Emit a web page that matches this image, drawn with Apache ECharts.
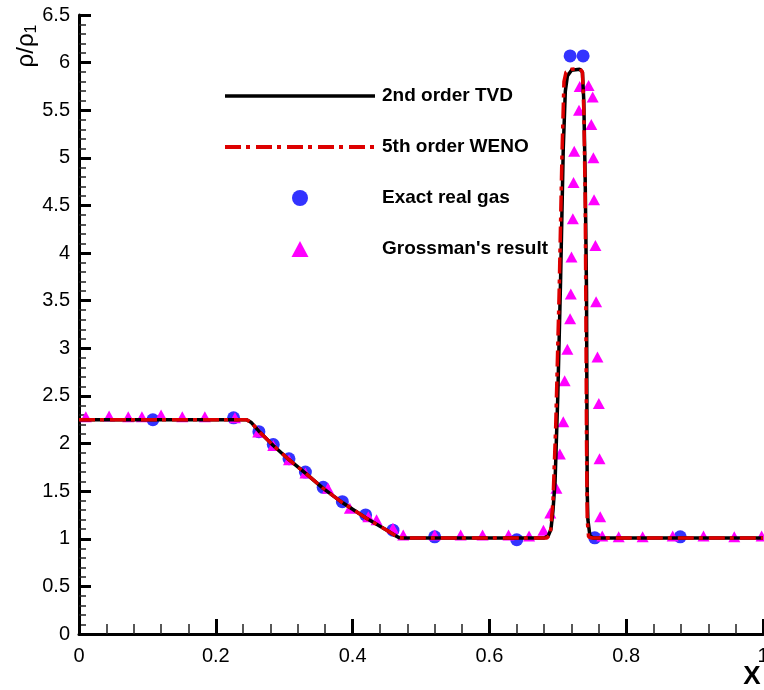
<!DOCTYPE html>
<html>
<head>
<meta charset="utf-8">
<script src="https://cdn.jsdelivr.net/npm/echarts@6/dist/echarts.min.js"></script>
<style>html,body{margin:0;padding:0;background:#fff}#c{width:764px;height:690px}</style>
</head>
<body>
<div id="c"></div>
<script>
// ---- data ----
var seriesNames = ["2nd order TVD", "5th order WENO", "Exact real gas", "Grossman's result"];
var xTicks = [0, 0.2, 0.4, 0.6, 0.8, 1];
var yTicks = [0, 0.5, 1, 1.5, 2, 2.5, 3, 3.5, 4, 4.5, 5, 5.5, 6, 6.5];

var tvd = [[0,2.25],[0.245,2.25],[0.252,2.22],[0.263,2.13],[0.284,1.98],[0.307,1.83],[0.331,1.69],
  [0.357,1.53],[0.385,1.38],[0.419,1.22],[0.45,1.09],[0.462,1.035],[0.468,1.012],[0.475,1.008],
  [0.68,1.008],[0.686,1.03],[0.690,1.10],[0.693,1.3],[0.696,1.6],[0.700,2.5],[0.704,3.7],
  [0.708,5.1],[0.711,5.7],[0.714,5.86],[0.720,5.92],[0.732,5.93],[0.736,5.9],[0.738,5.6],
  [0.740,4.8],[0.742,3.6],[0.743,1.5],[0.744,1.2],[0.747,1.03],[0.752,1.008],[1,1.008]];

var weno = [[0,2.25],[0.245,2.25],[0.252,2.22],[0.263,2.13],[0.284,1.98],[0.307,1.83],[0.331,1.69],
  [0.357,1.53],[0.385,1.38],[0.419,1.22],[0.45,1.09],[0.462,1.035],[0.468,1.012],[0.475,1.008],
  [0.684,1.008],[0.689,1.05],[0.693,1.4],[0.697,2.2],[0.702,3.6],[0.706,5.0],[0.709,5.8],
  [0.712,5.9],[0.720,5.93],[0.732,5.94],[0.736,5.9],[0.738,5.5],[0.740,4.6],[0.741,3.5],
  [0.742,2.0],[0.743,1.2],[0.745,1.02],[0.75,1.008],[1,1.008]];

var exact = [[0.108,2.25],[0.226,2.27],[0.263,2.125],[0.284,1.99],[0.307,1.84],[0.331,1.70],
  [0.357,1.54],[0.385,1.39],[0.419,1.25],[0.459,1.09],[0.520,1.02],[0.640,0.99],
  [0.718,6.07],[0.737,6.07],[0.754,1.01],[0.879,1.02]];

var grossman = [[0.010,2.28],[0.044,2.29],[0.072,2.28],[0.092,2.28],[0.120,2.30],[0.151,2.28],
  [0.184,2.28],[0.228,2.27],[0.262,2.12],[0.284,1.98],[0.307,1.83],[0.331,1.69],[0.364,1.53],
  [0.396,1.32],[0.423,1.23],[0.435,1.20],[0.459,1.11],[0.474,1.04],[0.520,1.04],[0.558,1.04],
  [0.590,1.04],[0.628,1.04],[0.658,1.03],[0.679,1.09],[0.689,1.27],[0.698,1.53],[0.703,1.89],
  [0.708,2.23],[0.710,2.66],[0.714,2.99],[0.718,3.31],[0.719,3.57],[0.720,3.96],[0.722,4.36],
  [0.723,4.74],[0.724,5.07],[0.731,5.50],[0.732,5.75],[0.745,5.76],[0.751,5.64],[0.749,5.35],
  [0.752,5.00],[0.753,4.56],[0.755,4.08],[0.756,3.49],[0.758,2.91],[0.760,2.42],[0.761,1.84],
  [0.762,1.23],[0.765,1.03],[0.789,1.02],[0.824,1.02],[0.868,1.03],[0.913,1.03],[0.958,1.02],
  [0.998,1.03]];

// ---- chart ----
var chart = echarts.init(document.getElementById('c'), null, {renderer: 'canvas'});
var font = 'Liberation Sans, Arial, sans-serif';
var hideSym = {color: 'rgba(0,0,0,0)', opacity: 0, borderWidth: 0};
chart.setOption({
  animation: false,
  backgroundColor: '#fff',
  grid: {left: 79, right: 1, top: 15, bottom: 56, containLabel: false, outerBoundsMode: 'none'},
  legend: {
    orient: 'vertical', left: 218, top: 81,
    itemWidth: 150, itemHeight: 16, itemGap: 31, symbolKeepAspect: true,
    data: [
      {name: seriesNames[0], itemStyle: hideSym, lineStyle: {width: 3.5, color: '#000'}},
      {name: seriesNames[1], itemStyle: hideSym, lineStyle: {width: 4, color: '#dd0000', type: [16,5,4,6]}},
      {name: seriesNames[2], icon: 'circle'},
      {name: seriesNames[3], icon: 'path://M0,17L9,0L18,17Z'}
    ],
    textStyle: {fontFamily: font, fontWeight: 'bold', fontSize: 19, color: '#000', lineHeight: 20, padding: [0,0,0,2]}
  },
  xAxis: {
    type: 'value', min: xTicks[0], max: xTicks[xTicks.length-1], interval: 0.2,
    axisLine: {onZero: false, lineStyle: {color: '#000', width: 3}},
    axisTick: {inside: true, length: 15, lineStyle: {color: '#000', width: 3}},
    minorTick: {show: true, splitNumber: 5, length: 10, lineStyle: {color: '#222', width: 1.5}},
    splitLine: {show: false},
    axisLabel: {color: '#000', fontFamily: font, fontSize: 20, margin: 12, showMaxLabel: true,
      formatter: function(v){ return String(+v.toFixed(1)); }}
  },
  yAxis: {
    type: 'value', min: yTicks[0], max: yTicks[yTicks.length-1], interval: 0.5,
    axisLine: {onZero: false, lineStyle: {color: '#000', width: 3}},
    axisTick: {inside: true, length: 12, lineStyle: {color: '#000', width: 3}},
    minorTick: {show: true, splitNumber: 5, length: 7, lineStyle: {color: '#222', width: 1.5}},
    splitLine: {show: false},
    axisLabel: {color: '#000', fontFamily: font, fontSize: 20, margin: 9,
      formatter: function(v){ return String(+v.toFixed(1)); }}
  },
  graphic: [
    {type: 'text', x: 26, y: 46, rotation: Math.PI/2, z: 10,
     style: {text: '{a|ρ/ρ}{b|1}', align: 'center', verticalAlign: 'middle',
       rich: {a: {fontFamily: font, fontSize: 24, lineHeight: 28, fill: '#000', color: '#000'},
              b: {fontFamily: font, fontSize: 16, lineHeight: 16, verticalAlign: 'bottom', color: '#000', fill: '#000'}}}},
    {type: 'text', x: 752, y: 677, z: 10,
     style: {text: 'X', align: 'center', verticalAlign: 'middle', fontFamily: font, fontWeight: 'bold', fontSize: 26, fill: '#000'}}
  ],
  series: [
    {name: seriesNames[0], type: 'line', data: tvd, symbol: 'none', z: 3,
     lineStyle: {color: '#000', width: 3.5}, itemStyle: {color: '#000'}},
    {name: seriesNames[1], type: 'line', data: weno, symbol: 'none', z: 4,
     lineStyle: {color: '#dd0000', width: 3.5, type: [16,5,4,6]}, itemStyle: {color: '#dd0000'}},
    {name: seriesNames[2], type: 'scatter', data: exact, symbol: 'circle', symbolSize: 13, z: 1,
     itemStyle: {color: '#3333ff', opacity: 1}},
    {name: seriesNames[3], type: 'scatter', data: grossman, symbol: 'triangle', symbolSize: [12, 11], z: 2,
     itemStyle: {color: '#ff00ff', opacity: 1}}
  ]
});
</script>
</body>
</html>
